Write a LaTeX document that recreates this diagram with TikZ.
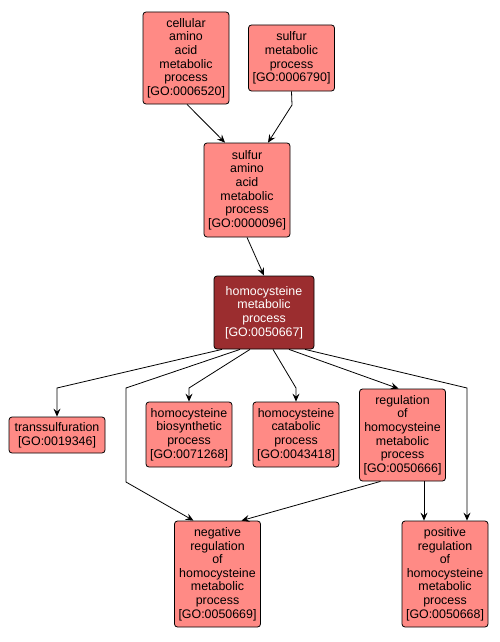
\documentclass[tikz,border=0pt]{standalone}
\usepackage{fontspec}
\setmainfont{Liberation Sans}
\usetikzlibrary{calc,positioning,arrows.meta}
\definecolor{termC}{HTML}{FF8A85}
\definecolor{focusC}{HTML}{9B2D2F}

\begin{document}
\begin{tikzpicture}[x=1pt,y=-1pt,
  goterm/.style={draw=black,line width=0.8pt,fill=termC,rounded corners=3pt,align=center,
    font=\fontsize{12.4}{13.6}\selectfont,inner xsep=4pt,inner ysep=4pt,minimum width=86pt},
  gofocus/.style={goterm,fill=focusC,text=white,minimum width=100pt,minimum height=73pt},
  isa/.style={-{Stealth[length=8pt,width=7pt,inset=3pt]},line width=0.8pt}]
  \useasboundingbox (0,0) rectangle (499,642);

  % top level terms
  \node[goterm,minimum height=92pt] (n6520) at (186,58) {cellular\\amino\\acid\\metabolic\\process\\{}[GO:0006520]};
  \node[goterm,minimum height=66pt] (n6790) at (291.5,58) {sulfur\\metabolic\\process\\{}[GO:0006790]};
  \node[goterm,minimum height=94pt] (n96) at (247,190) {sulfur\\amino\\acid\\metabolic\\process\\{}[GO:0000096]};

  % focus term
  \node[gofocus] (n50667) at (264,312.5) {homocysteine\\metabolic\\process\\{}[GO:0050667]};

  % children
  \node[goterm,minimum width=96pt,minimum height=36pt] (n19346) at (57,435) {transsulfuration\\{}[GO:0019346]};
  \node[goterm,minimum height=65pt] (n71268) at (189,434.5) {homocysteine\\biosynthetic\\process\\{}[GO:0071268]};
  \node[goterm,minimum height=65pt] (n43418) at (296,434.5) {homocysteine\\catabolic\\process\\{}[GO:0043418]};
  \node[goterm,minimum height=92pt] (n50666) at (402.5,435) {regulation\\of\\homocysteine\\metabolic\\process\\{}[GO:0050666]};
  \node[goterm,minimum height=106pt] (n50669) at (217.5,574) {negative\\regulation\\of\\homocysteine\\metabolic\\process\\{}[GO:0050669]};
  \node[goterm,minimum height=106pt] (n50668) at (445,574) {positive\\regulation\\of\\homocysteine\\metabolic\\process\\{}[GO:0050668]};

  % bend points
  \coordinate (b6790) at (292,105);
  \coordinate (b19346) at (57,388);
  \coordinate (b50669a) at (126,388);
  \coordinate (b50669b) at (126,482);
  \coordinate (b71268) at (189,388);
  \coordinate (b43418) at (296,388);
  \coordinate (b50668) at (467,388);

  % edges
  \draw[isa] ([xshift=1pt]n6520.south) -- ([xshift=-22pt]n96.north);
  \draw[isa] (n6790.south) -- (b6790) -- ([xshift=21pt]n96.north);
  \draw[isa] (n96.south) -- (n50667.north);
  \draw[isa] ([xshift=-42pt]n50667.south) -- (b19346) -- (n19346.north);
  \draw[isa] ([xshift=-24pt]n50667.south) -- (b50669a) -- (b50669b) -- ([xshift=-24pt]n50669.north);
  \draw[isa] ([xshift=-14pt]n50667.south) -- (b71268) -- (n71268.north);
  \draw[isa] ([xshift=9pt]n50667.south) -- (b43418) -- (n43418.north);
  \draw[isa] ([xshift=25pt]n50667.south) -- ([xshift=-4pt]n50666.north);
  \draw[isa] ([xshift=41pt]n50667.south) -- (b50668) -- ([xshift=22pt]n50668.north);
  \draw[isa] ([xshift=-22pt]n50666.south) -- ([xshift=24pt]n50669.north);
  \draw[isa] ([xshift=21.5pt]n50666.south) -- ([xshift=-21pt]n50668.north);
\end{tikzpicture}
\end{document}
